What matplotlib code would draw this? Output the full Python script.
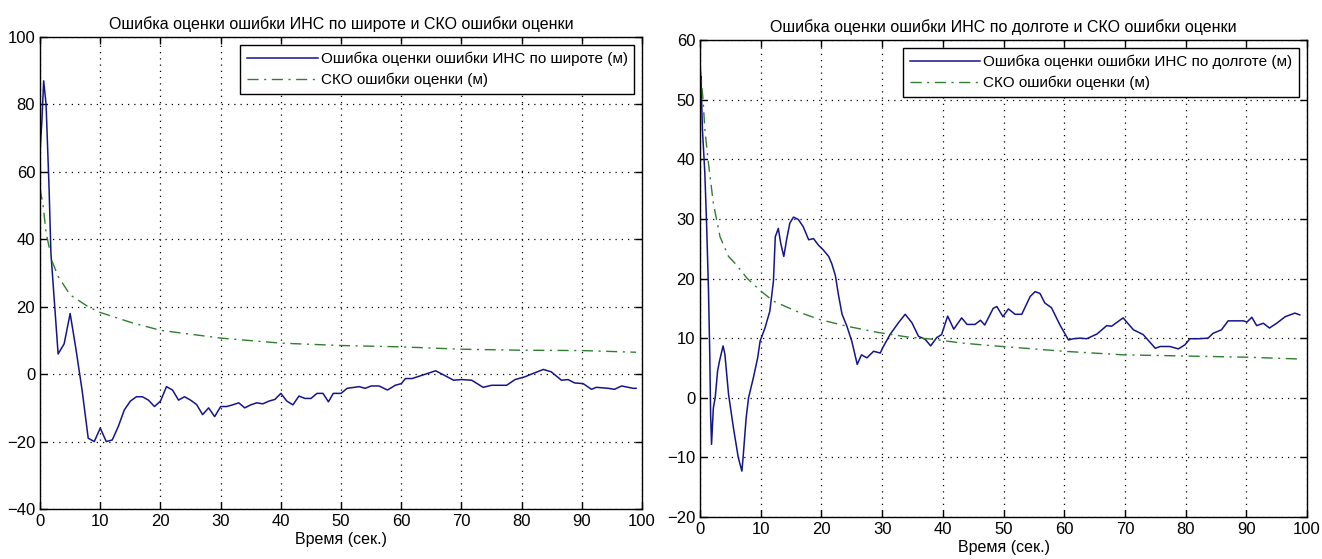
import matplotlib
matplotlib.use("Agg")
import matplotlib.pyplot as plt
from matplotlib.ticker import MultipleLocator

plt.rcParams['font.family'] = ['Liberation Sans Narrow', 'Liberation Sans', 'DejaVu Sans']

# ---- Left panel (latitude) ----
lat_t = [0, 0.3, 0.6, 1, 1.5, 1.8, 2.2, 3, 4, 5, 6, 7, 8, 9, 10, 11, 12, 13, 14, 15, 16, 17, 18, 19, 20,
         21, 22, 23, 24, 25, 26, 27, 28, 29, 30, 31, 32, 33, 34, 35, 36, 37, 38, 39, 40, 41, 42, 43, 44,
         45, 46, 47, 47.9, 48.7, 50, 51, 53, 54, 55, 56.3, 57.7, 59, 60, 60.7, 61.8, 63.5, 65.7, 66.8,
         68.7, 70, 71.7, 73.6, 75, 77.5, 78.9, 80.5, 81.6, 83.6, 84.9, 86.6, 87.7, 88.8, 90.2, 91.6,
         92.4, 94.4, 95.4, 96.6, 98.5, 99]
lat_err = [66, 75, 87, 80, 55, 36, 26, 6, 9, 18, 7, -5, -19, -20, -16, -20, -19.5, -15.5, -10.6, -8, -6.7,
           -6.7, -7.7, -9.6, -8, -3.7, -4.7, -7.7, -6.7, -7.7, -9, -12, -10, -12.6, -9.6, -9.6, -9.1, -8.5,
           -10, -9.1, -8.5, -8.8, -8, -7.5, -5.7, -8, -9.1, -6.5, -7.2, -7.2, -5.7, -5.7, -8.2, -5.7,
           -5.7, -4.2, -3.7, -4.2, -3.5, -3.5, -4.7, -3.3, -2.8, -1.3, -1.3, -0.3, 1.0, 0, -1.8, -1.6,
           -1.8, -3.9, -3.3, -3.3, -1.6, -0.8, 0, 1.4, 0.7, -1.8, -1.6, -2.6, -2.8, -4.5, -3.9, -4.2,
           -4.5, -3.5, -4.2, -4.2]
lat_sko_t = [0, 0.5, 1, 2, 3, 5, 8, 10, 15, 20, 30, 40, 50, 60, 70, 80, 90, 99]
lat_sko = [55, 50, 42, 33.5, 29, 23.5, 20, 18.3, 15.4, 13, 10.7, 9.2, 8.5, 8.1, 7.4, 7.1, 7.0, 6.5]

# ---- Right panel (longitude) ----
lon_t = [0, 0.15, 0.4, 0.8, 1.1, 1.4, 1.6, 1.75, 1.9, 2.2, 2.5, 2.9, 3.2, 3.8, 4.1, 4.7, 5.5, 6.3, 6.9,
         7.1, 7.6, 8, 8.8, 9.5, 9.9, 10.7, 11.5, 12.1, 12.4, 12.9, 13.3, 13.8, 14.3, 14.8, 15.4, 16.2,
         17, 17.9, 18.7, 19.5, 20.3, 21.2, 21.7, 22.3, 22.8, 23.4, 24.2, 25, 25.9, 26.6, 27.5, 28.6,
         29.7, 30.1, 31.3, 32.7, 33.8, 34.9, 36, 37.1, 38, 39, 39.8, 40.8, 41.8, 43.1, 44, 45.3, 46.2,
         46.9, 48.3, 48.9, 49.9, 50.8, 51.9, 53, 54.4, 55.2, 56, 56.8, 57.9, 59.3, 60.7, 61.5, 62.6,
         63.7, 65.4, 67, 67.8, 69.7, 71.4, 73, 75, 75.8, 77.4, 78.8, 79.9, 80.7, 82.1, 83.7, 84.5,
         85.9, 87, 89.5, 90.1, 90.9, 91.7, 92.8, 93.8, 95, 96.4, 98, 98.8]
lon_err = [50.5, 54, 45, 37.6, 28.7, 17.9, 7.8, -2.8, -7.8, -1.7, 0, 4.5, 6.1, 8.7, 7.3, 0.6, -5, -10,
           -12.3, -10, -3.4, 0, 3.4, 6.7, 9.5, 11.7, 14.5, 19.6, 27, 28.4, 25.9, 23.7, 26.7, 29.3, 30.3,
           29.9, 28.7, 26.5, 26.7, 25.6, 24.8, 23.7, 22.5, 20.5, 17.3, 14, 12, 9.5, 5.6, 7.2, 6.7, 7.8,
           7.5, 8.4, 10.6, 12.6, 14, 12.6, 10.3, 9.8, 8.7, 10.1, 10.6, 13.7, 11.5, 13.4, 12.3, 12.3, 13,
           12.2, 15, 15.3, 13.6, 14.9, 14, 14, 17, 17.8, 17.5, 15.9, 15.1, 12.2, 9.7, 9.9, 10, 9.9,
           10.7, 12.1, 12, 13.4, 11.4, 10.6, 8.3, 8.6, 8.6, 8.2, 8.9, 9.9, 9.9, 10, 10.8, 11.4, 12.9,
           12.9, 12.7, 13.5, 12.1, 12.5, 11.7, 12.5, 13.6, 14.2, 13.9]
lon_sko_t = [0, 0.5, 0.8, 1.4, 2.2, 3.3, 4.7, 6, 7.7, 9.9, 12.1, 15.9, 19.8, 24.2, 29.1, 34.1, 38.5,
             42.9, 47.3, 59.9, 69.7, 80.2, 90.1, 98.8]
lon_sko = [56, 50, 45, 39.3, 32.6, 27, 23.7, 22.3, 20.1, 18, 16.2, 14.5, 13.1, 12, 11, 10.2, 9.8, 9.2,
           8.8, 7.8, 7.2, 7.0, 6.8, 6.5]

titles = ["Ошибка оценки ошибки ИНС по широте и СКО ошибки оценки",
          "Ошибка оценки ошибки ИНС по долготе и СКО ошибки оценки"]
labels_err = ["Ошибка оценки ошибки ИНС по широте (м)",
              "Ошибка оценки ошибки ИНС по долготе (м)"]
label_sko = "СКО ошибки оценки (м)"
xlabel = "Время (сек.)"

blue = '#15158a'
green = '#2f7f2f'

fig = plt.figure(figsize=(13.22, 5.59), dpi=100)
ax1 = fig.add_axes([0.0303, 0.0894, 0.4554, 0.8444])
ax2 = fig.add_axes([0.5295, 0.0751, 0.4592, 0.8533])

panels = [
    (ax1, lat_t, lat_err, lat_sko_t, lat_sko, (-40, 100), 20, titles[0], labels_err[0]),
    (ax2, lon_t, lon_err, lon_sko_t, lon_sko, (-20, 60), 10, titles[1], labels_err[1]),
]

for ax, t, e, st, s, ylim, ystep, title, lab in panels:
    ax.plot(t, e, color=blue, lw=1.1, label=lab)
    ax.plot(st, s, color=green, lw=1.0, linestyle=(0, (8, 4, 1.5, 4)), label=label_sko)
    ax.set_xlim(0, 100)
    ax.set_ylim(*ylim)
    ax.xaxis.set_major_locator(MultipleLocator(10))
    ax.yaxis.set_major_locator(MultipleLocator(ystep))
    ax.grid(True, color='black', linestyle=(0, (1, 4)), linewidth=0.9)
    ax.tick_params(direction='in', top=True, right=True, length=5, labelsize=12, width=1)
    for sp in ax.spines.values():
        sp.set_linewidth(1.0)
    ax.set_title(title, fontsize=11.5, pad=6)
    ax.set_xlabel(xlabel, fontsize=11.5, labelpad=2)
    leg = ax.legend(loc='upper right', fancybox=False, edgecolor='black', framealpha=1,
                    fontsize=11, handlelength=4.6, borderaxespad=0.5, borderpad=0.45,
                    labelspacing=0.45, handletextpad=0.2)
    leg.get_frame().set_linewidth(1.0)

fig.savefig("out.png", dpi=100)
